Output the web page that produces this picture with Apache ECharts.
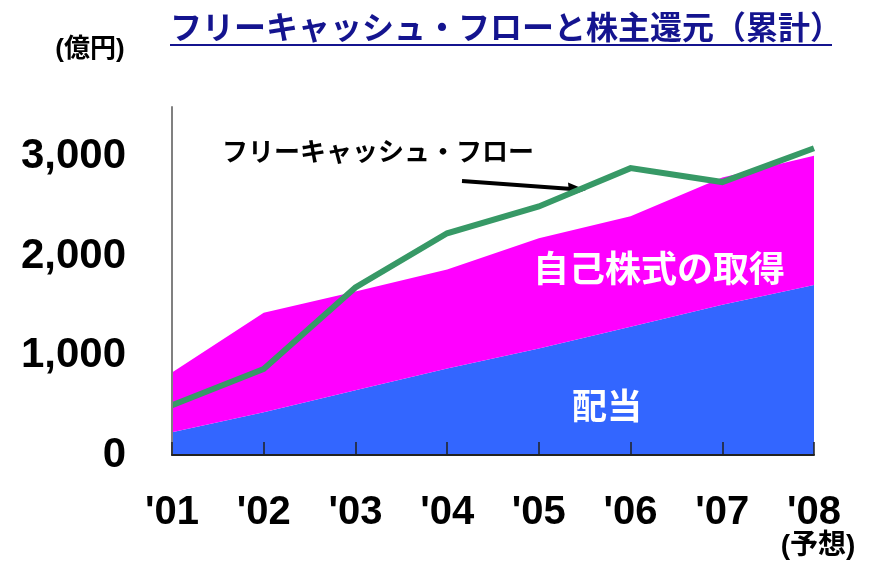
<!DOCTYPE html>
<html>
<head>
<meta charset="utf-8">
<script src="https://cdn.jsdelivr.net/npm/echarts@6/dist/echarts.min.js"></script>
<style>
  html, body { margin: 0; padding: 0; background: #fff; }
  #chart { width: 878px; height: 565px; }
</style>
</head>
<body>
<div id="chart"></div>
<script>
// fiscal years
var years = ["'01", "'02", "'03", "'04", "'05", "'06", "'07", "'08"];
// cumulative, 億円
var dividend = [230, 430, 650, 870, 1070, 1290, 1510, 1710];
var buyback = [600, 1000, 995, 995, 1110, 1110, 1280, 1300];
var freeCashFlow = [500, 865, 1685, 2230, 2500, 2885, 2745, 3085];
var yTicks = [0, 1000, 2000, 3000];

var latin = "'Liberation Sans', 'Noto Sans CJK JP', sans-serif";
var cjk = "'Noto Sans CJK JP', sans-serif";

var chart = echarts.init(document.getElementById('chart'));

chart.setOption({
  animation: false,
  grid: { left: 172, right: 64, top: 107, bottom: 110 },
  xAxis: {
    type: 'category',
    data: years,
    boundaryGap: false,
    z: 10,
    axisLine: { lineStyle: { color: '#222', width: 2 } },
    axisTick: { inside: true, interval: 0, length: 13, lineStyle: { color: '#222', width: 1.5 } },
    axisLabel: {
      interval: 0,
      margin: 39,
      fontSize: 40,
      fontWeight: 'bold',
      fontFamily: latin,
      color: '#000',
      lineHeight: 38,
      formatter: function (v, i) {
        return i === years.length - 1 ? v + '\n{note|(予想)}' : v;
      },
      rich: {
        note: { fontSize: 28, fontWeight: 'bold', fontFamily: latin, color: '#000', lineHeight: 28, padding: [0, 0, 0, 8] }
      }
    }
  },
  yAxis: {
    type: 'value',
    min: 0,
    max: 3500,
    interval: 500,
    z: 10,
    splitLine: { show: false },
    axisLine: { show: true, lineStyle: { color: '#808080', width: 2 } },
    axisTick: { inside: true, length: 13, customValues: yTicks, lineStyle: { color: '#808080', width: 1.5 } },
    axisLabel: {
      customValues: yTicks,
      margin: 46,
      fontSize: 42,
      fontWeight: 'bold',
      fontFamily: latin,
      color: '#000',
      padding: [5, 0, 0, 0],
      formatter: function (v) { return v.toLocaleString('en-US'); }
    }
  },
  series: [
    {
      name: '配当',
      type: 'line',
      stack: 'return',
      data: dividend,
      symbol: 'none',
      lineStyle: { width: 0 },
      areaStyle: { color: '#3366ff', opacity: 1 }
    },
    {
      name: '自己株式の取得',
      type: 'line',
      stack: 'return',
      data: buyback,
      symbol: 'none',
      lineStyle: { width: 0 },
      areaStyle: { color: '#ff00ff', opacity: 1 }
    },
    {
      name: 'フリーキャッシュ・フロー',
      type: 'line',
      data: freeCashFlow,
      symbol: 'none',
      lineStyle: { color: '#379966', width: 6, join: 'miter' },
      z: 5
    }
  ],
  graphic: [
    // title with underline
    { type: 'text', x: 170, y: 27, style: { text: 'フリーキャッシュ・フローと株主還元（累計）', fontSize: 32, fontWeight: 'bold', fontFamily: cjk, fill: '#14148f', textVerticalAlign: 'middle' } },
    { type: 'line', shape: { x1: 170, y1: 45, x2: 832, y2: 45 }, style: { stroke: '#14148f', lineWidth: 2 } },
    // unit
    { type: 'text', x: 90, y: 50, style: { text: '(億円)', fontSize: 26, fontWeight: 'bold', fontFamily: latin, fill: '#000', textAlign: 'center', textVerticalAlign: 'middle' } },
    // FCF callout
    { type: 'text', x: 378, y: 151, style: { text: 'フリーキャッシュ・フロー', fontSize: 26, fontWeight: 'bold', fontFamily: cjk, fill: '#000', textAlign: 'center', textVerticalAlign: 'middle' } },
    { type: 'line', shape: { x1: 462, y1: 181, x2: 572, y2: 189 }, style: { stroke: '#000', lineWidth: 4 } },
    { type: 'polygon', shape: { points: [[586, 190], [568, 182.5], [569.5, 196]] }, style: { fill: '#000' } },
    // area labels
    { type: 'text', x: 659, y: 268, z: 10, style: { text: '自己株式の取得', fontSize: 36, fontWeight: 'bold', fontFamily: cjk, fill: '#fff', textAlign: 'center', textVerticalAlign: 'middle' } },
    { type: 'text', x: 607, y: 406, z: 10, style: { text: '配当', fontSize: 35, fontWeight: 'bold', fontFamily: cjk, fill: '#fff', textAlign: 'center', textVerticalAlign: 'middle' } }
  ]
});
</script>
</body>
</html>
